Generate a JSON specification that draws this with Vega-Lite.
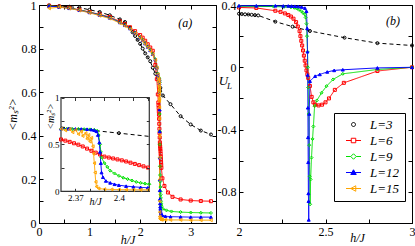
{
"$schema":"https://vega.github.io/schema/vega-lite/v6.json",
"padding":{"left":5,"top":-2,"right":0,"bottom":0},
"bounds":"flush",
"spacing":23,
"datasets":{
"a":[
{"L":3,"h":0.2,"m":0.998},{"L":3,"h":0.4,"m":0.995},{"L":3,"h":0.6,"m":0.992},{"L":3,"h":0.8,"m":0.988},{"L":3,"h":1.0,"m":0.978},{"L":3,"h":1.2,"m":0.968},{"L":3,"h":1.4,"m":0.953},{"L":3,"h":1.6,"m":0.934},{"L":3,"h":1.7,"m":0.922},{"L":3,"h":1.8,"m":0.896},{"L":3,"h":1.85,"m":0.875},{"L":3,"h":1.9,"m":0.858},{"L":3,"h":1.95,"m":0.84},{"L":3,"h":2.0,"m":0.822},{"L":3,"h":2.05,"m":0.8},{"L":3,"h":2.1,"m":0.778},{"L":3,"h":2.15,"m":0.76},{"L":3,"h":2.2,"m":0.742},{"L":3,"h":2.25,"m":0.712},{"L":3,"h":2.3,"m":0.685},{"L":3,"h":2.4,"m":0.62},{"L":3,"h":2.45,"m":0.585},{"L":3,"h":2.6,"m":0.545},{"L":3,"h":2.8,"m":0.49},{"L":3,"h":3.0,"m":0.452},{"L":3,"h":3.2,"m":0.424},{"L":3,"h":3.4,"m":0.406},
{"L":6,"h":0.2,"m":0.997},{"L":6,"h":0.4,"m":0.993},{"L":6,"h":0.6,"m":0.987},{"L":6,"h":0.8,"m":0.978},{"L":6,"h":1.0,"m":0.968},{"L":6,"h":1.2,"m":0.957},{"L":6,"h":1.4,"m":0.945},{"L":6,"h":1.6,"m":0.925},{"L":6,"h":1.7,"m":0.912},{"L":6,"h":1.8,"m":0.898},{"L":6,"h":1.9,"m":0.88},{"L":6,"h":2.0,"m":0.862},{"L":6,"h":2.05,"m":0.85},{"L":6,"h":2.1,"m":0.836},{"L":6,"h":2.15,"m":0.82},{"L":6,"h":2.2,"m":0.805},{"L":6,"h":2.25,"m":0.79},{"L":6,"h":2.3,"m":0.725},{"L":6,"h":2.33,"m":0.66},{"L":6,"h":2.35,"m":0.59},
{"L":6,"h":2.36,"m":0.553},{"L":6,"h":2.363,"m":0.54},{"L":6,"h":2.366,"m":0.527},{"L":6,"h":2.369,"m":0.512},{"L":6,"h":2.372,"m":0.497},{"L":6,"h":2.375,"m":0.478},{"L":6,"h":2.378,"m":0.455},{"L":6,"h":2.381,"m":0.432},{"L":6,"h":2.384,"m":0.412},{"L":6,"h":2.387,"m":0.392},{"L":6,"h":2.39,"m":0.37},{"L":6,"h":2.393,"m":0.36},{"L":6,"h":2.396,"m":0.35},{"L":6,"h":2.399,"m":0.34},{"L":6,"h":2.402,"m":0.33},{"L":6,"h":2.405,"m":0.318},{"L":6,"h":2.408,"m":0.305},{"L":6,"h":2.411,"m":0.292},{"L":6,"h":2.414,"m":0.279},{"L":6,"h":2.417,"m":0.266},{"L":6,"h":2.42,"m":0.253},
{"L":6,"h":2.44,"m":0.205},{"L":6,"h":2.48,"m":0.17},{"L":6,"h":2.55,"m":0.14},{"L":6,"h":2.64,"m":0.12},{"L":6,"h":2.8,"m":0.108},{"L":6,"h":3.0,"m":0.103},{"L":6,"h":3.2,"m":0.101},{"L":6,"h":3.4,"m":0.1},
{"L":9,"h":0.2,"m":0.996},{"L":9,"h":0.4,"m":0.992},{"L":9,"h":0.6,"m":0.986},{"L":9,"h":0.8,"m":0.977},{"L":9,"h":1.0,"m":0.967},{"L":9,"h":1.2,"m":0.955},{"L":9,"h":1.4,"m":0.942},{"L":9,"h":1.6,"m":0.921},{"L":9,"h":1.7,"m":0.908},{"L":9,"h":1.8,"m":0.893},{"L":9,"h":1.9,"m":0.874},{"L":9,"h":2.0,"m":0.853},{"L":9,"h":2.05,"m":0.84},{"L":9,"h":2.1,"m":0.825},{"L":9,"h":2.15,"m":0.81},{"L":9,"h":2.2,"m":0.794},{"L":9,"h":2.25,"m":0.776},{"L":9,"h":2.3,"m":0.752},{"L":9,"h":2.33,"m":0.715},{"L":9,"h":2.35,"m":0.685},
{"L":9,"h":2.36,"m":0.665},{"L":9,"h":2.364,"m":0.666},{"L":9,"h":2.368,"m":0.664},{"L":9,"h":2.372,"m":0.665},{"L":9,"h":2.376,"m":0.662},{"L":9,"h":2.38,"m":0.66},{"L":9,"h":2.383,"m":0.655},{"L":9,"h":2.385,"m":0.645},{"L":9,"h":2.386,"m":0.6},{"L":9,"h":2.387,"m":0.5},{"L":9,"h":2.3875,"m":0.42},{"L":9,"h":2.388,"m":0.36},{"L":9,"h":2.39,"m":0.3},{"L":9,"h":2.392,"m":0.26},{"L":9,"h":2.394,"m":0.22},{"L":9,"h":2.397,"m":0.19},{"L":9,"h":2.4,"m":0.165},{"L":9,"h":2.403,"m":0.145},{"L":9,"h":2.406,"m":0.13},{"L":9,"h":2.409,"m":0.115},{"L":9,"h":2.412,"m":0.1},{"L":9,"h":2.415,"m":0.09},{"L":9,"h":2.418,"m":0.082},{"L":9,"h":2.421,"m":0.075},
{"L":9,"h":2.45,"m":0.065},{"L":9,"h":2.52,"m":0.058},{"L":9,"h":2.62,"m":0.053},{"L":9,"h":2.8,"m":0.05},{"L":9,"h":3.0,"m":0.048},{"L":9,"h":3.2,"m":0.047},{"L":9,"h":3.4,"m":0.046},
{"L":12,"h":0.2,"m":0.995},{"L":12,"h":0.4,"m":0.991},{"L":12,"h":0.6,"m":0.985},{"L":12,"h":0.8,"m":0.976},{"L":12,"h":1.0,"m":0.966},{"L":12,"h":1.2,"m":0.954},{"L":12,"h":1.4,"m":0.941},{"L":12,"h":1.6,"m":0.92},{"L":12,"h":1.7,"m":0.907},{"L":12,"h":1.8,"m":0.892},{"L":12,"h":1.9,"m":0.873},{"L":12,"h":2.0,"m":0.851},{"L":12,"h":2.05,"m":0.838},{"L":12,"h":2.1,"m":0.823},{"L":12,"h":2.15,"m":0.808},{"L":12,"h":2.2,"m":0.792},{"L":12,"h":2.25,"m":0.774},{"L":12,"h":2.3,"m":0.75},{"L":12,"h":2.33,"m":0.713},{"L":12,"h":2.35,"m":0.683},
{"L":12,"h":2.36,"m":0.667},{"L":12,"h":2.365,"m":0.667},{"L":12,"h":2.37,"m":0.665},{"L":12,"h":2.374,"m":0.664},{"L":12,"h":2.378,"m":0.662},{"L":12,"h":2.381,"m":0.658},{"L":12,"h":2.383,"m":0.652},{"L":12,"h":2.3845,"m":0.64},{"L":12,"h":2.3855,"m":0.6},{"L":12,"h":2.3865,"m":0.52},{"L":12,"h":2.387,"m":0.42},{"L":12,"h":2.3875,"m":0.3},{"L":12,"h":2.388,"m":0.2},{"L":12,"h":2.389,"m":0.15},{"L":12,"h":2.391,"m":0.11},{"L":12,"h":2.394,"m":0.09},{"L":12,"h":2.397,"m":0.075},{"L":12,"h":2.4,"m":0.065},{"L":12,"h":2.405,"m":0.055},{"L":12,"h":2.41,"m":0.048},{"L":12,"h":2.415,"m":0.042},{"L":12,"h":2.42,"m":0.038},
{"L":12,"h":2.44,"m":0.035},{"L":12,"h":2.5,"m":0.031},{"L":12,"h":2.6,"m":0.029},{"L":12,"h":2.8,"m":0.028},{"L":12,"h":3.0,"m":0.027},{"L":12,"h":3.2,"m":0.027},{"L":12,"h":3.4,"m":0.027},
{"L":15,"h":0.2,"m":0.985},{"L":15,"h":0.4,"m":0.99},{"L":15,"h":0.6,"m":0.984},{"L":15,"h":0.8,"m":0.975},{"L":15,"h":1.0,"m":0.964},{"L":15,"h":1.2,"m":0.951},{"L":15,"h":1.4,"m":0.938},{"L":15,"h":1.6,"m":0.917},{"L":15,"h":1.7,"m":0.904},{"L":15,"h":1.8,"m":0.889},{"L":15,"h":1.9,"m":0.87},{"L":15,"h":2.0,"m":0.849},{"L":15,"h":2.05,"m":0.836},{"L":15,"h":2.1,"m":0.821},{"L":15,"h":2.15,"m":0.806},{"L":15,"h":2.2,"m":0.79},{"L":15,"h":2.25,"m":0.772},{"L":15,"h":2.3,"m":0.748},{"L":15,"h":2.33,"m":0.712},{"L":15,"h":2.35,"m":0.682},
{"L":15,"h":2.36,"m":0.665},{"L":15,"h":2.363,"m":0.65},{"L":15,"h":2.366,"m":0.66},{"L":15,"h":2.368,"m":0.63},{"L":15,"h":2.37,"m":0.655},{"L":15,"h":2.372,"m":0.61},{"L":15,"h":2.374,"m":0.64},{"L":15,"h":2.375,"m":0.59},{"L":15,"h":2.377,"m":0.62},{"L":15,"h":2.378,"m":0.56},{"L":15,"h":2.379,"m":0.6},{"L":15,"h":2.38,"m":0.53},{"L":15,"h":2.381,"m":0.57},{"L":15,"h":2.382,"m":0.48},{"L":15,"h":2.3825,"m":0.4},{"L":15,"h":2.383,"m":0.3},{"L":15,"h":2.3835,"m":0.2},{"L":15,"h":2.384,"m":0.1},{"L":15,"h":2.3845,"m":0.05},{"L":15,"h":2.386,"m":0.03},{"L":15,"h":2.39,"m":0.022},{"L":15,"h":2.395,"m":0.02},{"L":15,"h":2.4,"m":0.018},{"L":15,"h":2.405,"m":0.017},{"L":15,"h":2.41,"m":0.016},{"L":15,"h":2.415,"m":0.016},{"L":15,"h":2.42,"m":0.016},
{"L":15,"h":2.44,"m":0.016},{"L":15,"h":2.5,"m":0.015},{"L":15,"h":2.6,"m":0.014},{"L":15,"h":2.8,"m":0.014},{"L":15,"h":3.0,"m":0.013},{"L":15,"h":3.2,"m":0.013},{"L":15,"h":3.4,"m":0.013}
],
"b":[
{"L":3,"h":2.0,"u":0.344},{"L":3,"h":2.016,"u":0.342},{"L":3,"h":2.035,"u":0.34},{"L":3,"h":2.054,"u":0.339},{"L":3,"h":2.073,"u":0.337},{"L":3,"h":2.092,"u":0.335},{"L":3,"h":2.111,"u":0.333},{"L":3,"h":2.21,"u":0.293},{"L":3,"h":2.31,"u":0.261},{"L":3,"h":2.41,"u":0.233},{"L":3,"h":2.61,"u":0.19},{"L":3,"h":2.8,"u":0.155},{"L":3,"h":3.0,"u":0.14},
{"L":6,"h":2.0,"u":0.384},{"L":6,"h":2.1,"u":0.381},{"L":6,"h":2.21,"u":0.363},{"L":6,"h":2.24,"u":0.356},{"L":6,"h":2.265,"u":0.346},{"L":6,"h":2.285,"u":0.336},{"L":6,"h":2.3,"u":0.326},{"L":6,"h":2.315,"u":0.312},{"L":6,"h":2.33,"u":0.29},{"L":6,"h":2.34,"u":0.262},{"L":6,"h":2.35,"u":0.232},{"L":6,"h":2.355,"u":0.2},{"L":6,"h":2.36,"u":0.17},{"L":6,"h":2.365,"u":0.14},{"L":6,"h":2.37,"u":0.108},{"L":6,"h":2.375,"u":0.075},{"L":6,"h":2.38,"u":0.042},{"L":6,"h":2.385,"u":0.012},{"L":6,"h":2.39,"u":-0.02},{"L":6,"h":2.395,"u":-0.045},{"L":6,"h":2.4,"u":-0.068},{"L":6,"h":2.41,"u":-0.12},{"L":6,"h":2.42,"u":-0.19},{"L":6,"h":2.43,"u":-0.225},{"L":6,"h":2.44,"u":-0.24},{"L":6,"h":2.46,"u":-0.245},{"L":6,"h":2.48,"u":-0.24},{"L":6,"h":2.5,"u":-0.225},{"L":6,"h":2.52,"u":-0.2},{"L":6,"h":2.554,"u":-0.145},{"L":6,"h":2.606,"u":-0.1},{"L":6,"h":2.8,"u":-0.024},{"L":6,"h":3.0,"u":0.0},
{"L":9,"h":2.0,"u":0.392},{"L":9,"h":2.1,"u":0.391},{"L":9,"h":2.2,"u":0.39},{"L":9,"h":2.26,"u":0.388},{"L":9,"h":2.3,"u":0.385},{"L":9,"h":2.32,"u":0.382},{"L":9,"h":2.333,"u":0.378},{"L":9,"h":2.345,"u":0.37},{"L":9,"h":2.36,"u":0.36},{"L":9,"h":2.37,"u":0.35},{"L":9,"h":2.38,"u":0.34},{"L":9,"h":2.385,"u":0.32},{"L":9,"h":2.39,"u":0.28},{"L":9,"h":2.393,"u":0.2},{"L":9,"h":2.396,"u":0.1},{"L":9,"h":2.398,"u":0.0},{"L":9,"h":2.4,"u":-0.13},{"L":9,"h":2.403,"u":-0.3},{"L":9,"h":2.406,"u":-0.5},{"L":9,"h":2.409,"u":-0.7},{"L":9,"h":2.411,"u":-0.88},{"L":9,"h":2.414,"u":-0.72},{"L":9,"h":2.419,"u":-0.58},{"L":9,"h":2.425,"u":-0.46},{"L":9,"h":2.43,"u":-0.38},{"L":9,"h":2.437,"u":-0.25},{"L":9,"h":2.45,"u":-0.213},{"L":9,"h":2.477,"u":-0.164},{"L":9,"h":2.506,"u":-0.121},{"L":9,"h":2.544,"u":-0.078},{"L":9,"h":2.6,"u":-0.042},{"L":9,"h":2.8,"u":-0.014},{"L":9,"h":3.0,"u":0.0},
{"L":12,"h":2.0,"u":0.395},{"L":12,"h":2.1,"u":0.395},{"L":12,"h":2.21,"u":0.395},{"L":12,"h":2.256,"u":0.394},{"L":12,"h":2.285,"u":0.394},{"L":12,"h":2.304,"u":0.393},{"L":12,"h":2.323,"u":0.392},{"L":12,"h":2.342,"u":0.39},{"L":12,"h":2.362,"u":0.387},{"L":12,"h":2.381,"u":0.38},{"L":12,"h":2.39,"u":0.36},{"L":12,"h":2.394,"u":0.25},{"L":12,"h":2.396,"u":0.1},{"L":12,"h":2.397,"u":-0.05},{"L":12,"h":2.398,"u":-0.26},{"L":12,"h":2.399,"u":-0.45},{"L":12,"h":2.4,"u":-0.61},{"L":12,"h":2.401,"u":-0.81},{"L":12,"h":2.402,"u":-0.86},{"L":12,"h":2.403,"u":-0.98},{"L":12,"h":2.406,"u":-0.3},{"L":12,"h":2.41,"u":-0.089},{"L":12,"h":2.44,"u":-0.057},{"L":12,"h":2.467,"u":-0.046},{"L":12,"h":2.51,"u":-0.03},{"L":12,"h":2.55,"u":-0.02},{"L":12,"h":2.6,"u":-0.016},{"L":12,"h":2.8,"u":-0.004},{"L":12,"h":3.0,"u":0.0}
]
},
"config":{
"font":"Liberation Serif",
"view":{"stroke":"black","strokeWidth":1},
"axis":{"domainColor":"black","domainWidth":1,"tickColor":"black","tickWidth":1,"tickSize":-4,"labelPadding":7,"labelColor":"black","labelFontSize":12,"labelFlush":false,"labelOverlap":false,"titleColor":"black","titleFontSize":12,"titleFontWeight":"normal","titleFontStyle":"italic","grid":false},
"legend":{"orient":"none","legendX":95,"legendY":108,"padding":5,"strokeColor":"black","fillColor":"white","labelFontSize":13,"labelFontStyle":"italic","labelColor":"black","symbolSize":25,"symbolStrokeWidth":1,"rowPadding":2,"symbolOffset":8,"labelOffset":10},
"point":{"opacity":1,"size":9,"strokeWidth":1},
"line":{"strokeWidth":1}
},
"hconcat":[
{
"width":177,"height":218,
"layer":[
{"layer":[
{"data":{"name":"a"},"mark":{"type":"line"},
"encoding":{
"x":{"field":"h","type":"quantitative","scale":{"domain":[0,3.5],"nice":false,"zero":false},"axis":{"orient":"bottom","values":[0,0.5,1,1.5,2,2.5,3,3.5],"labelExpr":"datum.value % 1 == 0 ? '' + datum.value : ''","title":"h/J","titleY":16,"titleBaseline":"middle"}},
"y":{"field":"m","type":"quantitative","scale":{"domain":[0,1],"nice":false,"zero":false},"axis":{"orient":"left","values":[0,0.1,0.2,0.3,0.4,0.5,0.6,0.7,0.8,0.9,1],"labelExpr":"indexof([0,0.2,0.4,0.6,0.8,1], datum.value) >= 0 ? '' + datum.value : ''","title":"<mₛ²>","titlePadding":2}},
"stroke":{"field":"L","type":"nominal","scale":{"domain":[3,6,9,12,15],"range":["black","#ff0000","#00e000","#0000ff","#ffa500"]},"legend":null},
"strokeDash":{"field":"L","type":"nominal","scale":{"domain":[3,6,9,12,15],"range":[[4,3],[1,0],[1,0],[1,0],[1,0]]},"legend":null}}},
{"data":{"name":"a"},"mark":{"type":"point","filled":true},
"encoding":{
"x":{"field":"h","type":"quantitative","axis":null},
"y":{"field":"m","type":"quantitative","axis":null},
"shape":{"field":"L","type":"nominal","scale":{"domain":[3,6,9,12,15],"range":["circle","square","diamond","triangle-up","triangle-left"]},"legend":null},
"stroke":{"field":"L","type":"nominal","legend":null},
"fill":{"field":"L","type":"nominal","scale":{"domain":[3,6,9,12,15],"range":["transparent","transparent","transparent","#0000ff","transparent"]},"legend":null}}},
{"data":{"values":[{"t":"(a)","x":2.89,"y":0.917}]},"mark":{"type":"text","fontSize":12,"fontStyle":"italic"},
"encoding":{
"x":{"field":"x","type":"quantitative","axis":{"orient":"top","values":[0,0.5,1,1.5,2,2.5,3,3.5],"labels":false,"title":null,"domain":false}},
"y":{"field":"y","type":"quantitative","axis":{"orient":"right","values":[0,0.1,0.2,0.3,0.4,0.5,0.6,0.7,0.8,0.9,1],"labels":false,"title":null,"domain":false}},
"text":{"field":"t"}}}
]},
{"layer":[
{"data":{"values":[{"x1":2.36,"x2":2.421,"y1":0,"y2":1}]},"mark":{"type":"rect","fill":"white","stroke":"#333","strokeWidth":1.2},
"encoding":{
"x":{"field":"x1","type":"quantitative","scale":{"domain":[2.36,2.421],"range":[22,110.3],"nice":false,"zero":false,"clamp":true},"axis":{"orient":"top","offset":-92.5,"values":[2.37,2.38,2.39,2.4,2.41,2.42],"labels":false,"title":null,"domain":false,"tickSize":-3,"zindex":1,"tickColor":"#333"}},
"x2":{"field":"x2"},
"y":{"field":"y1","type":"quantitative","scale":{"domain":[0,1],"range":[186.3,92.5],"nice":false,"zero":false},"axis":{"orient":"right","offset":-66.7,"values":[0,0.25,0.5,0.75,1],"labels":false,"title":null,"domain":false,"tickSize":-3,"zindex":1,"tickColor":"#333"}},
"y2":{"field":"y2"}}},
{"data":{"name":"a"},"transform":[{"filter":"datum.L == 3 && datum.h >= 2.29 && datum.h <= 2.46"}],"mark":{"type":"line"},
"encoding":{
"x":{"field":"h","type":"quantitative","axis":{"orient":"bottom","offset":-31.7,"values":[2.37,2.38,2.39,2.4,2.41,2.42],"labelExpr":"datum.value == 2.37 || datum.value == 2.4 ? '' + datum.value : ''","title":"h/J","titleX":56,"titleY":10,"titleBaseline":"middle","titleFontSize":10,"labelFontSize":9,"tickSize":-3,"labelPadding":5,"domain":false,"zindex":1,"tickColor":"#333"}},
"y":{"field":"m","type":"quantitative","axis":{"orient":"left","offset":-22,"values":[0,0.25,0.5,0.75,1],"labelExpr":"datum.value == 0 || datum.value == 0.5 || datum.value == 1 ? '' + datum.value : ''","title":"<mₛ²>","titleX":-6,"titleY":111,"titleAlign":"center","titleFontSize":10,"labelFontSize":9,"tickSize":-3,"labelPadding":5,"domain":false,"zindex":1,"tickColor":"#333"}},
"stroke":{"field":"L","type":"nominal","legend":null},
"strokeDash":{"field":"L","type":"nominal","legend":null}}},
{"data":{"name":"a"},"transform":[{"filter":"datum.L != 3 && datum.h >= 2.359 && datum.h <= 2.4215"}],"mark":{"type":"line"},
"encoding":{
"x":{"field":"h","type":"quantitative","axis":null},
"y":{"field":"m","type":"quantitative","axis":null},
"stroke":{"field":"L","type":"nominal","legend":null},
"strokeDash":{"field":"L","type":"nominal","legend":null}}},
{"data":{"name":"a"},"transform":[{"filter":"datum.h >= 2.359 && datum.h <= 2.4215"}],"mark":{"type":"point","filled":true},
"encoding":{
"x":{"field":"h","type":"quantitative","axis":null},
"y":{"field":"m","type":"quantitative","axis":null},
"shape":{"field":"L","type":"nominal","legend":null},
"stroke":{"field":"L","type":"nominal","legend":null},
"fill":{"field":"L","type":"nominal","legend":null}}}
]}
],
"resolve":{"scale":{"x":"independent","y":"independent"}}
},
{
"width":173,"height":218,
"layer":[
{"data":{"name":"b"},"mark":{"type":"line"},
"encoding":{
"x":{"field":"h","type":"quantitative","scale":{"domain":[2,3],"nice":false,"zero":false},"axis":{"orient":"bottom","values":[2,2.25,2.5,2.75,3],"labelExpr":"datum.value == 2 || datum.value == 2.5 || datum.value == 3 ? '' + datum.value : ''","title":"h/J","titleX":118,"titleY":14,"titleBaseline":"middle"}},
"y":{"field":"u","type":"quantitative","scale":{"domain":[-1,0.4],"nice":false,"zero":false},"axis":{"orient":"left","values":[-1,-0.8,-0.6,-0.4,-0.2,0,0.2,0.4],"labelExpr":"indexof([-0.8,-0.4,0,0.4], datum.value) >= 0 ? '' + datum.value : ''","title":"U","titleAngle":0,"titleX":-16,"titleY":75,"titleBaseline":"middle","titleAlign":"center","titleFontSize":13}},
"stroke":{"field":"L","type":"nominal","scale":{"domain":[3,6,9,12,15],"range":["black","#ff0000","#00e000","#0000ff","#ffa500"]},"legend":null},
"strokeDash":{"field":"L","type":"nominal","scale":{"domain":[3,6,9,12,15],"range":[[4,3],[1,0],[1,0],[1,0],[1,0]]},"legend":null}}},
{"data":{"name":"b"},"mark":{"type":"point","filled":true},
"encoding":{
"x":{"field":"h","type":"quantitative","axis":null},
"y":{"field":"u","type":"quantitative","axis":null},
"shape":{"field":"L","type":"nominal","scale":{"domain":[3,6,9,12,15],"range":["circle","square","diamond","triangle-up","triangle-left"]},"legend":null},
"stroke":{"field":"L","type":"nominal","scale":{"domain":[3,6,9,12,15],"range":["black","#ff0000","#00e000","#0000ff","#ffa500"]},"legend":null},
"fill":{"field":"L","type":"nominal","scale":{"domain":[3,6,9,12,15],"range":["transparent","transparent","transparent","#0000ff","transparent"]},"legend":null}}},
{"data":{"name":"b"},"transform":[{"filter":"false"}],"mark":{"type":"point","filled":true},
"encoding":{
"x":{"field":"h","type":"quantitative","axis":null},
"y":{"field":"u","type":"quantitative","axis":null},
"shape":{"field":"L","type":"nominal","scale":{"domain":[3,6,9,12,15],"range":["M0.8,0A0.8,0.8,0,1,1,-0.8,0A0.8,0.8,0,1,1,0.8,0Z","M-3,0H-0.9M0.9,0H3M-0.9,-0.9H0.9V0.9H-0.9Z","M-3,0H-1.1M1.1,0H3M0,-1.1L1.1,0L0,1.1L-1.1,0Z","M-3,0H3M0,-1.1L1.1,0.8H-1.1Z","M-3,0H3M-1.1,0L0.9,-1.1V1.1Z"]},"legend":{"title":null,"labelExpr":"'L=' + datum.label"}},
"stroke":{"field":"L","type":"nominal","scale":{"domain":[3,6,9,12,15],"range":["black","#ff0000","#00e000","#0000ff","#ffa500"]},"legend":{"title":null,"labelExpr":"'L=' + datum.label"}},
"fill":{"field":"L","type":"nominal","scale":{"domain":[3,6,9,12,15],"range":["transparent","transparent","transparent","#0000ff","transparent"]},"legend":{"title":null,"labelExpr":"'L=' + datum.label"}}}},
{"data":{"values":[{"t":"(b)","x":2.89,"y":0.297}]},"mark":{"type":"text","fontSize":12,"fontStyle":"italic"},
"encoding":{
"x":{"field":"x","type":"quantitative","axis":{"orient":"top","values":[2,2.25,2.5,2.75,3],"labels":false,"title":null,"domain":false}},
"y":{"field":"y","type":"quantitative","axis":{"orient":"right","values":[-1,-0.8,-0.6,-0.4,-0.2,0,0.2,0.4],"labels":false,"title":null,"domain":false}},
"text":{"field":"t"}}},
{"data":{"values":[{"t":"L","x":1.945,"y":-0.118}]},"mark":{"type":"text","fontSize":9,"fontStyle":"italic"},
"encoding":{
"x":{"field":"x","type":"quantitative","axis":null},
"y":{"field":"y","type":"quantitative","axis":null},
"text":{"field":"t"}}}
],
"resolve":{"scale":{"shape":"independent","stroke":"independent","fill":"independent"}}
}
]
}
